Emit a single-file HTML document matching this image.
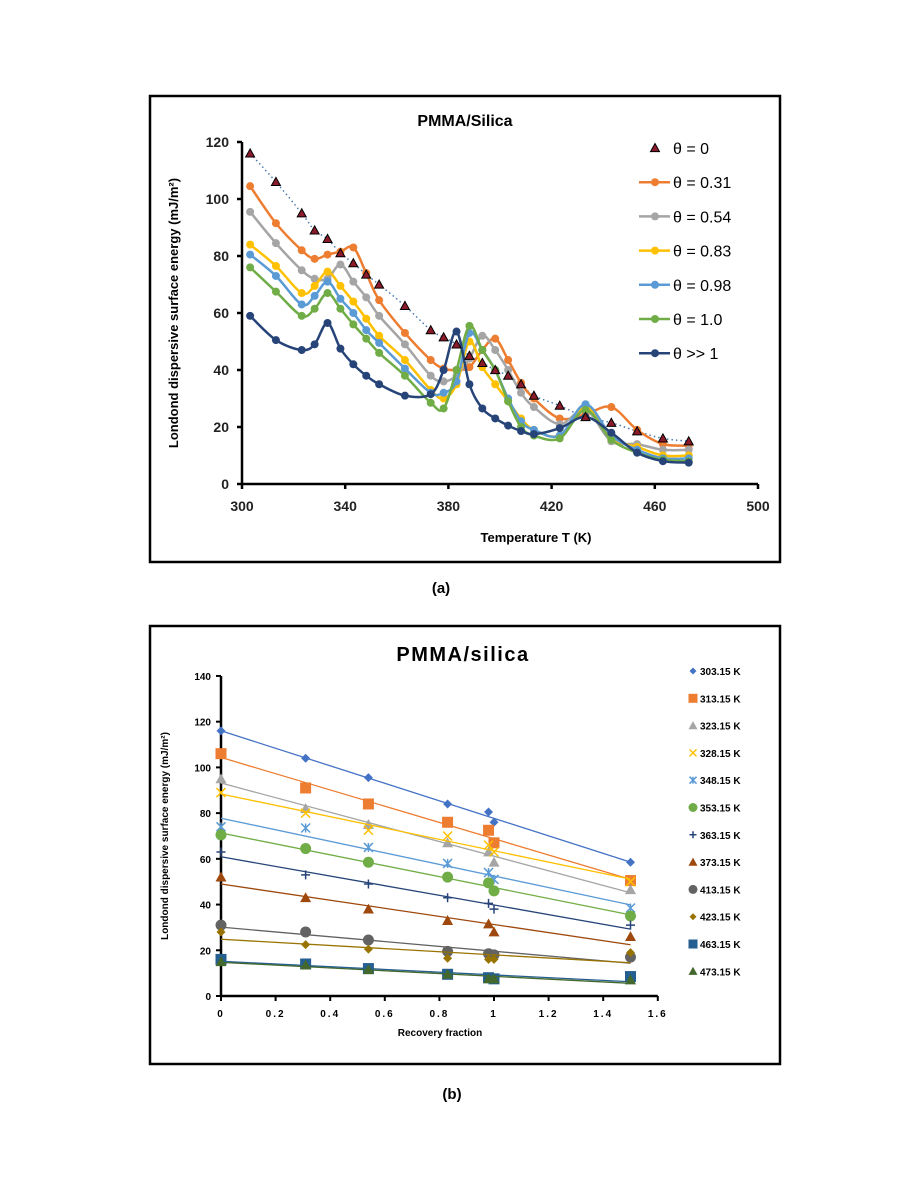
<!DOCTYPE html>
<html><head><meta charset="utf-8"><style>
html,body{margin:0;padding:0;background:#fff;width:901px;height:1200px;overflow:hidden}
svg{position:absolute;left:0;top:0}
text{font-family:"Liberation Sans",sans-serif}
</style></head><body>
<svg id="s" width="901" height="1200">
<rect x="150" y="96" width="630" height="466" fill="#fff" stroke="#000" stroke-width="2.5"/>
<rect x="150" y="626" width="630" height="438" fill="#fff" stroke="#000" stroke-width="2.5"/>
<text x="465" y="126" text-anchor="middle" font-size="16" font-weight="bold">PMMA/Silica</text>
<text x="536" y="542" text-anchor="middle" font-size="13" font-weight="bold">Temperature T (K)</text>
<text transform="translate(178,313) rotate(-90)" text-anchor="middle" font-size="13" font-weight="bold">Londond dispersive surface energy (mJ/m²)</text>
<text x="441" y="593" text-anchor="middle" font-size="15" font-weight="bold">(a)</text>
<text x="463" y="661" text-anchor="middle" font-size="20" font-weight="bold" letter-spacing="1.5">PMMA/silica</text>
<text x="440" y="1036" text-anchor="middle" font-size="10" font-weight="bold">Recovery fraction</text>
<text transform="translate(168,836) rotate(-90)" text-anchor="middle" font-size="10" font-weight="bold">Londond dispersive surface energy (mJ/m²)</text>
<text x="452" y="1099" text-anchor="middle" font-size="15" font-weight="bold">(b)</text>
<g id="ga"></g><g id="gb"></g>
</svg>
<script>
// ---- chart (a) data ----
const tempsA=[303.15,313.15,323.15,328.15,333.15,338.15,343.15,348.15,353.15,363.15,373.15,378.15,383.15,388.15,393.15,398.15,403.15,408.15,413.15,423.15,433.15,443.15,453.15,463.15,473.15];
const theta0=[116,106,95,89,86,81,77.5,73.5,70,62.5,54,51.5,49,45,42.5,40,38,35,31,27.5,23.5,21.5,18.5,16,15];
const theta031=[104.5,91.5,82,79,80.5,81.5,83,74,64.5,53,43.5,40.5,40,41,47,51,43.5,35.5,30,23,24.5,27,19,14,13.5];
const theta054=[95.5,84.5,75,72,72,77,71,65.5,59,49,38,36,38,44,52,47,40,32,27,21,26,15,14,12,12];
const theta083=[84,76.5,67,69.5,74.5,69.5,64,58,52,43.5,33,30,35,50,41,35,29,23,19,17,27,16,13,10,10];
const theta098=[80.5,73,63,66,71,65,60,54,49.5,40.5,32,32,36,53,47,40,30,22,19,17,28,17,12,9,9];
const theta10=[76,67.5,59,61.5,67,61.5,56,51,46,38,28.5,26.5,40,55.5,47,40,29,20,17,16,26,15.5,11,8.5,8];
const thetaBig=[59,50.5,47,49,56.5,47.5,42,38,35,31,31.5,40,53.5,35,26.5,23,20.5,18.6,17.5,19.6,23.5,18,11,8,7.5];
const xTicksA=[300,340,380,420,460,500];
const yTicksA=[0,20,40,60,80,100,120];
const legendA=["θ = 0","θ = 0.31","θ = 0.54","θ = 0.83","θ = 0.98","θ = 1.0","θ >> 1"];
// ---- chart (b) data ----
const fracB=[0,0.31,0.54,0.83,0.98,1.0,1.5];
const tempLabelsB=["303.15 K","313.15 K","323.15 K","328.15 K","348.15 K","353.15 K","363.15 K","373.15 K","413.15 K","423.15 K","463.15 K","473.15 K"];
const s303=[116,104,95.5,84,80.5,76,58.5];
const s313=[106,91,84,76,72.5,67,50.5];
const s323=[95,82,75,67,63,58.5,46.5];
const s328=[89,80,72.5,70,66,63,50];
const s348=[74,73.5,65,58,54,51,38.5];
const s353=[70.5,64.5,58.5,52,49.5,46,35];
const s363=[63,53,49,43,40.5,38,31];
const s373=[52,43,38,33,31.5,28,26];
const s413=[31,28,24.5,19.5,18.5,18,17];
const s423=[28,22.5,20.5,16.5,16,16,19];
const s463=[16,14,12,9.5,8,7.5,8.5];
const s473=[15,13.5,11.5,9.5,7.5,7.5,7];
const xTicksB=[0,0.2,0.4,0.6,0.8,1,1.2,1.4,1.6];
const yTicksB=[0,20,40,60,80,100,120,140];

const NS="http://www.w3.org/2000/svg";
function mk(p,tag,at){const e=document.createElementNS(NS,tag);for(const k in at)e.setAttribute(k,at[k]);p.appendChild(e);return e;}
const ga=document.getElementById('ga'), gb=document.getElementById('gb');
// axes a
const xA=v=>242+(v-300)*2.58, yA=v=>484-v*2.85;
let ax=mk(ga,'line',{x1:xA(300),y1:yA(0),x2:xA(500),y2:yA(0),stroke:'#000','stroke-width':2.5});

ax=mk(ga,'line',{x1:xA(300),y1:yA(0),x2:xA(300),y2:yA(120),stroke:'#000','stroke-width':2.5});

xTicksA.forEach(t=>{mk(ga,'line',{x1:xA(t),y1:yA(0),x2:xA(t),y2:yA(0)+5,stroke:'#000','stroke-width':2.5});
 const e=mk(ga,'text',{x:xA(t),y:511,'text-anchor':'middle','font-size':14,'font-weight':'bold','fill':'#222'});e.textContent=t;
 });
yTicksA.forEach(t=>{mk(ga,'line',{x1:xA(300)-5,y1:yA(t),x2:xA(300),y2:yA(t),stroke:'#000','stroke-width':2.5});
 const e=mk(ga,'text',{x:229,y:yA(t)+5,'text-anchor':'end','font-size':14,'font-weight':'bold','fill':'#222'});e.textContent=t;
 });
function smooth(pts){let d=`M${pts[0][0]},${pts[0][1]}`;for(let i=0;i<pts.length-1;i++){const p0=pts[i-1]||pts[i],p1=pts[i],p2=pts[i+1],p3=pts[i+2]||p2;
 const c1=[p1[0]+(p2[0]-p0[0])/6,p1[1]+(p2[1]-p0[1])/6],c2=[p2[0]-(p3[0]-p1[0])/6,p2[1]-(p3[1]-p1[1])/6];
 d+=`C${c1[0]},${c1[1]} ${c2[0]},${c2[1]} ${p2[0]},${p2[1]}`;}return d;}
const seriesA=[[theta031,'#ed7d31'],[theta054,'#a5a5a5'],[theta083,'#ffc000'],[theta098,'#5b9bd5'],[theta10,'#70ad47'],[thetaBig,'#264478']];
// dotted theta0 line
const p0=tempsA.map((t,i)=>[xA(t),yA(theta0[i])]);
let l=mk(ga,'path',{d:smooth(p0),fill:'none',stroke:'#4a7ab0','stroke-width':1.5,'stroke-dasharray':'1.5 3'});

seriesA.forEach(([vals,c],k)=>{const pts=tempsA.map((t,i)=>[xA(t),yA(vals[i])]);
 const p=mk(ga,'path',{d:smooth(pts),fill:'none',stroke:c,'stroke-width':2.5});
 
 pts.forEach(q=>{const m=mk(ga,'circle',{cx:q[0],cy:q[1],r:4,fill:c});
  });});
function tri(g,x,y,r,fill,stroke){return mk(g,'polygon',{points:`${x},${y-r} ${x+r},${y+r*0.8} ${x-r},${y+r*0.8}`,fill:fill,stroke:stroke||'none','stroke-width':1});}
p0.forEach(q=>{const m=tri(ga,q[0],q[1],4.5,'#8b1a2b','#000');
 });
// legend a
const legColA=[null,'#ed7d31','#a5a5a5','#ffc000','#5b9bd5','#70ad47','#264478'];
legendA.forEach((lab,i)=>{const y=148+i*34.2;
 if(i===0){const m=tri(ga,655,y,4.5,'#8b1a2b','#000');}
 else{mk(ga,'line',{x1:639,y1:y,x2:670,y2:y,stroke:legColA[i],'stroke-width':2.5});
  const m=mk(ga,'circle',{cx:655,cy:y,r:4,fill:legColA[i]});}
 const e=mk(ga,'text',{x:673,y:y+6,'font-size':16,'font-family':'"Liberation Serif",serif'});e.textContent=lab;
 });

// ---- chart b ----
const xB=v=>221+v*273, yB=v=>996-v*2.286;
ax=mk(gb,'line',{x1:xB(0),y1:yB(0),x2:xB(1.6),y2:yB(0),stroke:'#000','stroke-width':2.5});

ax=mk(gb,'line',{x1:xB(0),y1:yB(0),x2:xB(0),y2:yB(140),stroke:'#000','stroke-width':2.5});

xTicksB.forEach(t=>{mk(gb,'line',{x1:xB(t),y1:yB(0),x2:xB(t),y2:yB(0)+5,stroke:'#000','stroke-width':2});
 const e=mk(gb,'text',{x:xB(t),y:1017,'text-anchor':'middle','font-size':10,'font-weight':'bold','letter-spacing':2});e.textContent=String(t).replace('.',' . ').replace(/ /g,'');
 e.textContent=String(t);
 });
yTicksB.forEach(t=>{mk(gb,'line',{x1:xB(0)-5,y1:yB(t),x2:xB(0),y2:yB(t),stroke:'#000','stroke-width':2});
 const e=mk(gb,'text',{x:211,y:yB(t)+4,'text-anchor':'end','font-size':10,'font-weight':'bold'});e.textContent=t;
 });
const seriesB=[[s303,'#4472c4','dia'],[s313,'#ed7d31','sq'],[s323,'#a5a5a5','tri'],[s328,'#ffc000','x'],[s348,'#5b9bd5','star'],[s353,'#70ad47','circ'],[s363,'#264478','plus'],[s373,'#9e480e','tri'],[s413,'#636363','circ'],[s423,'#997300','dia'],[s463,'#255e91','sq'],[s473,'#43682b','tri']];
function marker(g,type,x,y,c,big){const r=big?4.5:3.5;let e;
 if(type==='dia')e=mk(g,'polygon',{points:`${x},${y-r} ${x+r},${y} ${x},${y+r} ${x-r},${y}`,fill:c});
 else if(type==='sq')e=mk(g,'rect',{x:x-r-1,y:y-r-1,width:2*r+2,height:2*r+2,fill:c});
 else if(type==='tri')e=tri(g,x,y,r+1,c);
 else if(type==='circ')e=mk(g,'circle',{cx:x,cy:y,r:r+1,fill:c});
 else if(type==='x')e=mk(g,'path',{d:`M${x-r},${y-r}L${x+r},${y+r}M${x-r},${y+r}L${x+r},${y-r}`,stroke:c,'stroke-width':1.5});
 else if(type==='star')e=mk(g,'path',{d:`M${x-r},${y-r}L${x+r},${y+r}M${x-r},${y+r}L${x+r},${y-r}M${x},${y-r}L${x},${y+r}`,stroke:c,'stroke-width':1.5});
 else e=mk(g,'path',{d:`M${x-r},${y}L${x+r},${y}M${x},${y-r}L${x},${y+r}`,stroke:c,'stroke-width':1.5});
 return e;}
seriesB.forEach(([vals,c,type],k)=>{
 const n=vals.length,mx=fracB.reduce((a,b)=>a+b)/n,my=vals.reduce((a,b)=>a+b)/n;
 let sxy=0,sxx=0;fracB.forEach((x,i)=>{sxy+=(x-mx)*(vals[i]-my);sxx+=(x-mx)*(x-mx);});
 const b=sxy/sxx,a=my-b*mx;
 const t=mk(gb,'line',{x1:xB(0),y1:yB(a),x2:xB(1.5),y2:yB(a+b*1.5),stroke:c,'stroke-width':1.3});
 
 fracB.forEach((x,i)=>{const m=marker(gb,type,xB(x),yB(vals[i]),c,true);
  });
 const ly=671+k*27.3;
 const lm=marker(gb,type,693,ly,c,false);
 const e=mk(gb,'text',{x:700,y:ly+4,'font-size':10,'font-weight':'bold'});e.textContent=tempLabelsB[k];
 });
</script>
</body></html>
